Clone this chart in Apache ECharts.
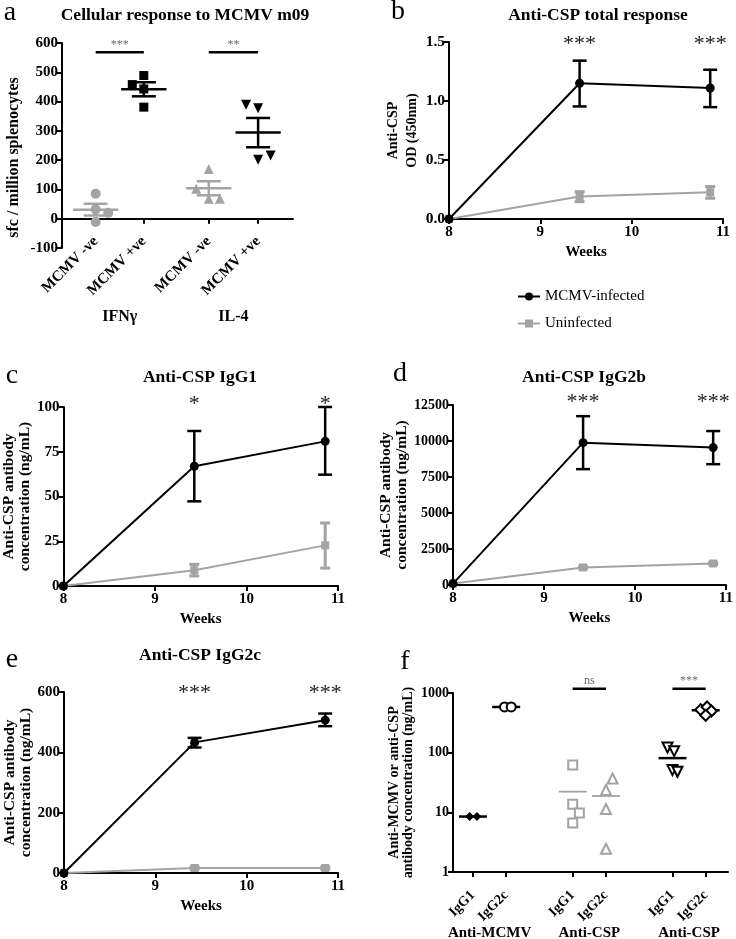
<!DOCTYPE html>
<html><head><meta charset="utf-8">
<script src="https://cdn.jsdelivr.net/npm/echarts@6/dist/echarts.min.js"></script>
<style>html,body{margin:0;padding:0;background:#fff}#c{width:736px;height:939px}</style>
</head><body><div id="c"></div>
<script>
// ---------------- DATA ----------------
// Panel a: cellular response (sfc / million splenocytes)
const aPos = [0, 1, 2.35, 3.375];
const aTickLabels = ['MCMV -ve', 'MCMV +ve', 'MCMV -ve', 'MCMV +ve'];
const aGroupLabels = ['IFNγ', 'IL-4'];
const aIfnNeg = [85, 32, 20, -11];
const aIfnPos = [489, 458, 443, 381];
const aIl4Neg = [170, 102, 68, 68];
const aIl4Pos = [389, 377, 201, 216];
const aJitter = [[0, 0, 0.26, 0], [0, -0.24, 0, 0], [0, -0.26, 0, 0.23], [-0.25, 0, 0, 0.26]];
const aMeans = [31, 442, 104, 294];
const aSemLow = [11, 418, 80, 244];
const aSemHigh = [51, 466, 128, 344];
const aSigText = ['***', '**'];
const aSigFrom = [0, 2.35];
const aSigTo = [1, 3.375];
const aSigLevel = 568;

// Time-course panels (weeks)
const weeks = [8, 9.43, 10.86];
const seriesNames = ['MCMV-infected', 'Uninfected'];
// b: Anti-CSP total response, OD(450nm)
const bInf = [0, 1.15, 1.11], bInfLow = [0, 0.954, 0.948], bInfHigh = [0, 1.342, 1.265];
const bUn = [0, 0.19, 0.226], bUnLow = [0, 0.147, 0.176], bUnHigh = [0, 0.232, 0.275];
const bStars = ['***', '***'], bStarLevel = 1.48;
// c: IgG1 (ng/mL)
const cInf = [0, 66.9, 80.8], cInfLow = [0, 47.3, 62.2], cInfHigh = [0, 86.6, 100];
const cUn = [0, 8.8, 22.7], cUnLow = [0, 5.6, 10], cUnHigh = [0, 12.1, 35.2];
const cStars = ['*', '*'], cStarLevel = 101.5;
// d: IgG2b (ng/mL)
const dInf = [100, 9885, 9540], dInfLow = [100, 8046, 8390], dInfHigh = [100, 11724, 10690];
const dUn = [100, 1218, 1494], dUnLow = [100, 1140, 1420], dUnHigh = [100, 1300, 1570];
const dStars = ['***', '***'], dStarLevel = 12700;
// e: IgG2c (ng/mL)
const eInf = [0, 433, 506.6], eInfLow = [0, 416, 486.8], eInfHigh = [0, 448, 528.6];
const eUn = [0, 16.5, 16.5], eUnLow = [0, 13, 13], eUnHigh = [0, 20, 20];
const eStars = ['***', '***'], eStarLevel = 596;

// f: antibody concentrations, log scale
const fPos = [0, 1, 3, 4, 6, 7];
const fTickLabels = ['IgG1', 'IgG2c', 'IgG1', 'IgG2c', 'IgG1', 'IgG2c'];
const fGroupLabels = ['Anti-MCMV', 'Anti-CSP', 'Anti-CSP'];
const fVals = [[8.5, 8.5], [583, 583], [62, 13.6, 9.7, 6.6], [37, 23.7, 11.4, 2.45], [122, 106, 51, 48], [526, 583, 500, 423]];
const fJitter = [[-0.1, 0.12], [-0.05, 0.15], [0, 0, 0.2, 0], [0.2, 0, 0, 0], [-0.15, 0.05, 0, 0.15], [-0.15, 0.04, 0.17, 0]];
const fMeans = [8.5, 583, 22.2, 18.8, 81, 514];
const fSigText = ['ns', '***'];
const fSigFrom = [3, 6];
const fSigTo = [4, 7];
const fSigLevel = 1180;

// ---------------- STYLE ----------------
const FONT = "'Liberation Serif','Times New Roman',serif";
const GREY = '#a3a3a3';
const BLACK = '#000';
const SIGGREY = '#6a6a6a';

function txtStyle(text, font, fill, align, valign) {
  return { text, font, fill, textAlign: align, textVerticalAlign: valign, align, verticalAlign: valign };
}

function errSeries(gi, xs, lows, highs, color, lw, cap) {
  const d = [];
  xs.forEach((x, i) => { if (lows[i] !== highs[i]) d.push([x, lows[i], highs[i]]); });
  return {
    type: 'custom', xAxisIndex: gi, yAxisIndex: gi, silent: true, z: 2, clip: false,
    data: d, encode: { x: 0, y: [1, 2] },
    renderItem: (params, api) => {
      const x = api.value(0);
      const p1 = api.coord([x, api.value(1)]), p2 = api.coord([x, api.value(2)]);
      const style = { stroke: color, lineWidth: lw };
      return { type: 'group', children: [
        { type: 'line', shape: { x1: p1[0], y1: p1[1], x2: p2[0], y2: p2[1] }, style },
        { type: 'line', shape: { x1: p1[0] - cap, y1: p1[1], x2: p1[0] + cap, y2: p1[1] }, style },
        { type: 'line', shape: { x1: p2[0] - cap, y1: p2[1], x2: p2[0] + cap, y2: p2[1] }, style }
      ] };
    }
  };
}

function meanSeries(gi, xs, ys, half, colors, widths) {
  return {
    type: 'custom', xAxisIndex: gi, yAxisIndex: gi, silent: true, z: 2, clip: false,
    data: xs.map((x, i) => [x, ys[i]]),
    renderItem: (params, api) => {
      const x = api.value(0), y = api.value(1);
      const p1 = api.coord([x - half, y]), p2 = api.coord([x + half, y]);
      const i = params.dataIndex;
      return { type: 'line', shape: { x1: p1[0], y1: p1[1], x2: p2[0], y2: p2[1] },
        style: { stroke: colors[i], lineWidth: widths[i] } };
    }
  };
}

function sigSeries(gi, from, to, level, texts, font, dyText) {
  return {
    type: 'custom', xAxisIndex: gi, yAxisIndex: gi, silent: true, z: 4, clip: false,
    data: from.map((f, i) => [f, to[i], level]),
    renderItem: (params, api) => {
      const p1 = api.coord([api.value(0), api.value(2)]), p2 = api.coord([api.value(1), api.value(2)]);
      return { type: 'group', children: [
        { type: 'line', shape: { x1: p1[0], y1: p1[1], x2: p2[0], y2: p2[1] }, style: { stroke: BLACK, lineWidth: 2.5 } },
        { type: 'text', x: (p1[0] + p2[0]) / 2, y: p1[1] - dyText,
          style: txtStyle(texts[params.dataIndex], font, SIGGREY, 'center', 'bottom') }
      ] };
    }
  };
}

function textSeries(gi, pts, texts, font, color, dy, valign) {
  return {
    type: 'custom', xAxisIndex: gi, yAxisIndex: gi, silent: true, z: 5, clip: false,
    data: pts,
    renderItem: (params, api) => {
      const p = api.coord([api.value(0), api.value(1)]);
      return { type: 'text', x: p[0], y: p[1] + dy,
        style: txtStyle(texts[params.dataIndex], font, color, 'center', valign) };
    }
  };
}

function lineSeries(gi, name, vals, color, symbol, size, z) {
  return { type: 'line', name, xAxisIndex: gi, yAxisIndex: gi,
    data: weeks.map((w, i) => [w, vals[i]]), symbol, symbolSize: size,
    itemStyle: { color, opacity: 1 }, lineStyle: { color, width: 2 }, z, silent: true };
}

function scatterSeries(gi, pos, vals, jit, symbol, size, fill, stroke, rot) {
  return { type: 'scatter', xAxisIndex: gi, yAxisIndex: gi, silent: true, z: 3,
    data: vals.map((v, i) => [pos + jit[i], v]), symbol, symbolSize: size, symbolRotate: rot || 0,
    itemStyle: { color: fill, borderColor: stroke, borderWidth: fill === stroke ? 0 : 2, opacity: 1 } };
}

const axisLine = { show: true, onZero: false, lineStyle: { color: BLACK, width: 2 } };
const axisTick = { show: true, length: 5, inside: false, lineStyle: { color: BLACK, width: 2 } };
function labelStyle(size, extra) {
  return Object.assign({ color: BLACK, fontFamily: FONT, fontWeight: 'bold', fontSize: size, margin: 5 }, extra || {});
}
function nameStyle(size, lh, pad) {
  return { color: BLACK, fontFamily: FONT, fontWeight: 'bold', fontSize: size, lineHeight: lh, padding: pad || 0 };
}

function weekAxis(gi) {
  return { type: 'value', gridIndex: gi, min: 8, max: 11, interval: 1,
    axisLine, axisTick, splitLine: { show: false },
    axisLabel: labelStyle(15, { formatter: v => String(v), margin: 6 }),
    name: 'Weeks', nameLocation: 'middle', nameGap: 25, nameTextStyle: nameStyle(15, 16) };
}
function valAxis(gi, min, max, interval, name, gap, fmt, size, nsize, lh, pad) {
  return { type: 'value', gridIndex: gi, min, max, interval,
    axisLine, axisTick, splitLine: { show: false },
    axisLabel: labelStyle(size, { formatter: fmt, margin: 4 }),
    name, nameLocation: 'middle', nameGap: gap, nameRotate: 90, nameTextStyle: nameStyle(nsize, lh, pad) };
}

// ---------------- OPTION ----------------
const grids = [
  { left: 62, top: 43, width: 231, height: 205 },
  { left: 449, top: 42, width: 274, height: 177 },
  { left: 63, top: 407, width: 275, height: 179 },
  { left: 453, top: 405, width: 275, height: 180 },
  { left: 64, top: 692, width: 274, height: 181 },
  { left: 453, top: 693, width: 275, height: 179 }
];

const xAxes = [
  { type: 'value', gridIndex: 0, min: -0.7, max: 4.1,
    axisLine: { show: true, onZero: true, lineStyle: { color: BLACK, width: 2 } },
    axisTick: Object.assign({}, axisTick, { customValues: aPos }),
    splitLine: { show: false },
    axisLabel: labelStyle(15, { customValues: aPos, rotate: 45, margin: -9,
      formatter: v => { const i = aPos.findIndex(p => Math.abs(p - v) < 1e-6); return i >= 0 ? aTickLabels[i] : ''; } }) },
  weekAxis(1), weekAxis(2), weekAxis(3), weekAxis(4),
  { type: 'value', gridIndex: 5, min: -0.6, max: 7.67,
    axisLine, axisTick: Object.assign({}, axisTick, { customValues: fPos }),
    splitLine: { show: false },
    axisLabel: labelStyle(14, { customValues: fPos, rotate: 45, margin: 21,
      formatter: v => { const i = fPos.findIndex(p => Math.abs(p - v) < 1e-6); return i >= 0 ? fTickLabels[i] : ''; } }) }
];

const yAxes = [
  valAxis(0, -100, 600, 100, 'sfc / million splenocytes', 39, v => String(v), 15, 16, 18, [0, 24, 0, 0]),
  valAxis(1, 0, 1.5, 0.5, 'Anti-CSP\nOD (450nm)', 26, v => v.toFixed(1), 15.5, 14, 19),
  valAxis(2, 0, 100, 25, 'Anti-CSP antibody\nconcentration (ng/mL)', 27, v => String(v), 15, 15.5, 16),
  valAxis(3, 0, 12500, 2500, 'Anti-CSP antibody\nconcentration (ng/mL)', 42, v => String(v), 14, 15.5, 16),
  valAxis(4, 0, 600, 200, 'Anti-CSP antibody\nconcentration (ng/mL)', 28, v => String(v), 15, 15.5, 16),
  { type: 'log', logBase: 10, gridIndex: 5, min: 1, max: 1000,
    axisLine, axisTick, splitLine: { show: false }, minorTick: { show: false },
    axisLabel: labelStyle(14, { formatter: v => String(Math.round(v)), margin: 4 }),
    name: 'Anti-MCMV or anti-CSP\nantibody concentration (ng/mL)', nameLocation: 'middle', nameGap: 38, nameRotate: 90,
    nameTextStyle: nameStyle(14, 14) }
];

const series = [];
// Panel a
const aSets = [aIfnNeg, aIfnPos, aIl4Neg, aIl4Pos];
const aSym = [['circle', 10, GREY, 0], ['rect', 9, BLACK, 0], ['triangle', 10, GREY, 0], ['triangle', 10, BLACK, 180]];
aSets.forEach((vals, k) => {
  const s = aSym[k];
  series.push(scatterSeries(0, aPos[k], vals, aJitter[k], s[0], s[1], s[2], s[2], s[3]));
});
const aColors = [GREY, BLACK, GREY, BLACK];
series.push(meanSeries(0, aPos, aMeans, 0.47, aColors, [2.5, 2.5, 2.5, 2.5]));
aPos.forEach((p, k) => series.push(errSeries(0, [p], [aSemLow[k]], [aSemHigh[k]], aColors[k], 2.5, 12)));
series.push(sigSeries(0, aSigFrom, aSigTo, aSigLevel, aSigText, '12px ' + FONT, 2));
series.push(textSeries(0, [[(aPos[0] + aPos[1]) / 2, -100], [(aPos[2] + aPos[3]) / 2, -100]], aGroupLabels,
  'bold 16px ' + FONT, BLACK, 69, 'middle'));

// Time-course panels b-e
const tc = [
  [1, bInf, bInfLow, bInfHigh, bUn, bUnLow, bUnHigh, bStars, bStarLevel],
  [2, cInf, cInfLow, cInfHigh, cUn, cUnLow, cUnHigh, cStars, cStarLevel],
  [3, dInf, dInfLow, dInfHigh, dUn, dUnLow, dUnHigh, dStars, dStarLevel],
  [4, eInf, eInfLow, eInfHigh, eUn, eUnLow, eUnHigh, eStars, eStarLevel]
];
tc.forEach(t => {
  const gi = t[0];
  series.push(errSeries(gi, weeks, t[5], t[6], GREY, 3, 5));
  series.push(lineSeries(gi, seriesNames[1], t[4], GREY, 'rect', 8, 3));
  series.push(errSeries(gi, weeks, t[2], t[3], BLACK, 2.5, 7));
  series.push(lineSeries(gi, seriesNames[0], t[1], BLACK, 'circle', 9, 4));
  series.push(textSeries(gi, [[weeks[1], t[8]], [weeks[2], t[8]]], t[7], '22px ' + FONT, '#222', 0, 'middle'));
});

// Panel f
const fSym = [
  ['diamond', 9, BLACK, BLACK, 0], ['circle', 9, '#fff', BLACK, 0],
  ['rect', 9, '#fff', GREY, 0], ['triangle', 10, '#fff', GREY, 0],
  ['triangle', 10, '#fff', BLACK, 180], ['diamond', 11, '#fff', BLACK, 0]
];
fVals.forEach((vals, k) => {
  const s = fSym[k];
  series.push(scatterSeries(5, fPos[k], vals, fJitter[k], s[0], s[1], s[2], s[3], s[4]));
});
series.push(meanSeries(5, fPos, fMeans, 0.42, [BLACK, BLACK, GREY, GREY, BLACK, BLACK], [2.5, 2.5, 1.8, 1.8, 2.5, 2.5]));
series.push(sigSeries(5, fSigFrom, fSigTo, fSigLevel, fSigText, '12px ' + FONT, 2));
series.push(textSeries(5, [[(fPos[0] + fPos[1]) / 2, 1], [(fPos[2] + fPos[3]) / 2, 1], [(fPos[4] + fPos[5]) / 2, 1]],
  fGroupLabels, 'bold 15px ' + FONT, BLACK, 61, 'middle'));

function gtext(x, y, text, font) {
  return { type: 'text', x, y, silent: true, style: txtStyle(text, font, BLACK, 'center', 'middle') };
}
const TITLEF = 'bold 17.5px ' + FONT;
const LETTERF = '28px ' + FONT;
const graphic = [
  gtext(185, 15, 'Cellular response to MCMV m09', TITLEF),
  gtext(598, 15, 'Anti-CSP total response', TITLEF),
  gtext(200, 377, 'Anti-CSP IgG1', TITLEF),
  gtext(584, 377, 'Anti-CSP IgG2b', TITLEF),
  gtext(200, 655, 'Anti-CSP IgG2c', TITLEF),
  gtext(10, 13, 'a', LETTERF),
  gtext(398, 12, 'b', LETTERF),
  gtext(12, 376, 'c', LETTERF),
  gtext(400, 374, 'd', LETTERF),
  gtext(12, 660, 'e', LETTERF),
  gtext(405, 662, 'f', LETTERF)
];

const chart = echarts.init(document.getElementById('c'), null, { renderer: 'canvas' });
chart.setOption({
  animation: false,
  backgroundColor: '#fff',
  grid: grids,
  xAxis: xAxes,
  yAxis: yAxes,
  legend: { data: seriesNames, left: 512, top: 284, orient: 'vertical', itemWidth: 22, itemHeight: 10, itemGap: 12,
    selectedMode: false, textStyle: { fontFamily: FONT, fontSize: 15, color: BLACK } },
  graphic,
  series
});
</script></body></html>
